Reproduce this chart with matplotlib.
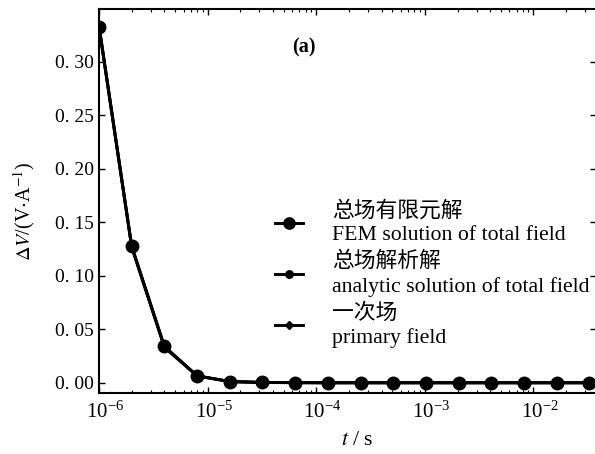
import matplotlib
matplotlib.use('Agg')
import matplotlib.pyplot as plt
import matplotlib.transforms as mtransforms
from matplotlib.ticker import LogLocator, NullFormatter

plt.rcParams['font.family'] = ['Liberation Serif', 'Noto Sans CJK SC']
plt.rcParams['mathtext.fontset'] = 'stix'

# времена (с) и значения ΔV/(V·A^-1)
t = [1e-6, 2e-6, 4e-6, 8e-6, 1.6e-5, 3.2e-5, 6.4e-5, 1.28e-4,
     2.56e-4, 5.12e-4, 1.024e-3, 2.048e-3, 4.096e-3, 8.192e-3,
     1.6384e-2, 3.2768e-2]
dv_fem = [0.333, 0.128, 0.034, 0.0065, 0.0012, 0.0004, 0.0002, 0.0001,
          0.0001, 0.0001, 0.0001, 0.0001, 0.0001, 0.0001, 0.0001, 0.0001]
dv_analytic = [0.334, 0.127, 0.034, 0.0066, 0.0012, 0.0004, 0.0002, 0.0001,
               0.0001, 0.0001, 0.0001, 0.0001, 0.0001, 0.0001, 0.0001, 0.0001]
dv_primary = [0.333, 0.127, 0.033, 0.0064, 0.0011, 0.0003, 0.0001, 0.0,
              0.0, 0.0, 0.0, 0.0, 0.0, 0.0, 0.0, 0.0]

labels = ['总场有限元解\nFEM solution of total field',
          '总场解析解\nanalytic solution of total field',
          '一次场\nprimary field']
yticks = [0.0, 0.05, 0.10, 0.15, 0.20, 0.25, 0.30]
ytick_labels = ['0. 00', '0. 05', '0. 10', '0. 15', '0. 20', '0. 25', '0. 30']

fig = plt.figure(figsize=(5.95, 4.54), dpi=100)
ax = fig.add_axes([0.1664, 0.1344, 0.8353, 0.8458])

ax.plot(t, dv_fem, color='black', lw=2.1, marker='o', ms=9, label=labels[0])
ax.plot(t, dv_analytic, color='black', lw=2.1, marker='o', ms=6, label=labels[1])
ax.plot(t, dv_primary, color='black', lw=2.1, marker='D', ms=4.5, label=labels[2])

ax.set_xscale('log')
ax.set_xlim(1e-6, 3.77e-2)
ax.set_ylim(-0.0095, 0.3495)
ax.set_yticks(yticks)
ax.set_yticklabels(ytick_labels)
ax.xaxis.set_major_locator(LogLocator(base=10, numticks=10))
ax.xaxis.set_minor_locator(LogLocator(base=10, subs=range(2, 10), numticks=100))
ax.xaxis.set_minor_formatter(NullFormatter())
ax.tick_params(which='both', direction='in', top=True, right=True, labelsize=14)
ax.tick_params(axis='x', labelsize=15)
ax.tick_params(which='major', length=4, width=1)
ax.tick_params(which='minor', length=2, width=0.8)
ax.tick_params(axis='x', pad=6)
for s in ax.spines.values():
    s.set_linewidth(1.5)

# сдвиг подписей оси x, чтобы "10" стояло над делением
shift = mtransforms.ScaledTranslation(0.06, 0, fig.dpi_scale_trans)
for lab in ax.get_xticklabels():
    lab.set_transform(lab.get_transform() + shift)

ax.set_ylabel(r'$\Delta V$/(V$\cdot$A$^{-1}$)', fontsize=14.5)
ax.yaxis.set_label_coords(-0.125, 0.474)
ax.set_xlabel(r'$t$ / s', fontsize=15.5)
ax.xaxis.set_label_coords(0.52, -0.098)
ax.text(0.413, 0.90, '(a)', transform=ax.transAxes, fontsize=14.5,
        fontweight='bold', ha='center', va='center')

leg = ax.legend(loc='upper left', bbox_to_anchor=(0.354, 0.499), frameon=False,
                fontsize=15.7, handlelength=1.3, handletextpad=1.3,
                labelspacing=0.3, borderpad=0, borderaxespad=0, markerscale=0.9)
for txt in leg.get_texts():
    txt.set_linespacing(1.3)

plt.savefig('out.png', dpi=100)
